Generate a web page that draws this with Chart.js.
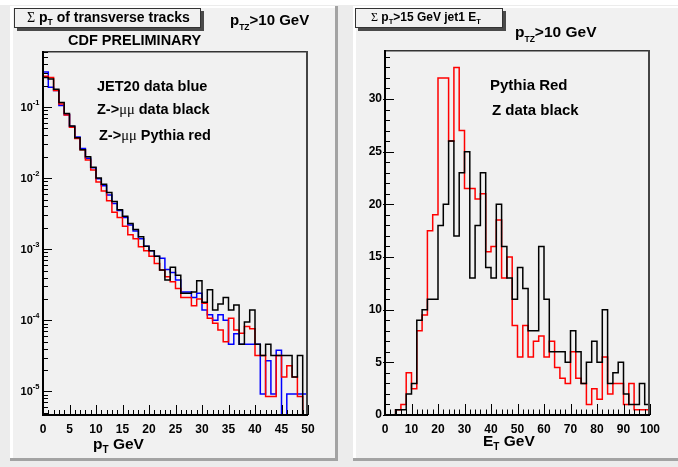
<!DOCTYPE html>
<html><head><meta charset="utf-8">
<script src="https://cdn.jsdelivr.net/npm/chart.js@4/dist/chart.umd.min.js"></script>
<style>
html,body{margin:0;padding:0;background:#fff;}
#wrap{position:relative;width:678px;height:467px;overflow:hidden;background:#ececec}
canvas{position:absolute;top:0}
#c1{left:0}
#c2{left:339px}
</style></head><body>
<div id="wrap"><canvas id="c1" width="339" height="467"></canvas><canvas id="c2" width="339" height="467"></canvas></div>
<script>
// ---------- DATA ----------
// Left panel: sum pT of transverse tracks, 1 GeV bins
const ptEdges = [0,1,2,3,4,5,6,7,8,9,10,11,12,13,14,15,16,17,18,19,20,21,22,23,24,25,26,27,28,29,30,31,32,33,34,35,36,37,38,39,40,41,42,43,44,45,46,47,48,49,50];
const jet20Blue = [0.31,0.19,0.17,0.105,0.078,0.053,0.038,0.026,0.019,0.014,0.0098,0.0078,0.0058,0.0044,0.0035,0.0028,0.0022,0.0018,0.0014,0.0011,0.00095,0.0008,0.00075,0.00052,0.00047,0.00037,0.00025,0.00025,0.00021,0.00024,0.00014,0.00012,0.0001,0.00012,0.0001,0.000046,0.000065,0.000046,0.000046,0.000046,0.000046,0.0000092,0.000027,0.0000092,0.000038,0,0.0000092,0.0000092,0.0000092,0.0000092];
const zDataBlack = [0.26,0.248,0.177,0.116,0.081,0.054,0.037,0.025,0.020,0.0142,0.0100,0.0082,0.0063,0.0047,0.0036,0.0029,0.0023,0.0019,0.0015,0.0011,0.00095,0.00080,0.00051,0.00037,0.00056,0.00043,0.00024,0.00024,0.00025,0.00036,0.00018,0.00027,0.00014,0.00017,0.00021,0.00014,0.000165,0.000046,0.000095,0.00014,0.000046,0.000032,0.000046,0.000032,0.000032,0.000032,0.000032,0.000016,0.000032,0];
const pythiaRedPt = [0.27,0.26,0.17,0.11,0.077,0.052,0.036,0.025,0.018,0.013,0.0088,0.0066,0.0048,0.0033,0.0028,0.0021,0.0016,0.0014,0.00108,0.00095,0.0008,0.00063,0.00051,0.00041,0.00035,0.00028,0.00021,0.00021,0.00016,0.0002,0.000174,0.000107,0.000091,0.000073,0.00005,0.000107,0.000073,0.000066,0.000082,0.000076,0.000032,0.000032,0.0000085,0.0000085,0.000032,0.000016,0.000023,0.000016,0.0000085,0];
const ptTicks = [0,5,10,15,20,25,30,35,40,45,50];
const logTickExps = [-5,-4,-3,-2,-1];

// Right panel: jet1 ET, 2 GeV bins
const etEdges = [0,2,4,6,8,10,12,14,16,18,20,22,24,26,28,30,32,34,36,38,40,42,44,46,48,50,52,54,56,58,60,62,64,66,68,70,72,74,76,78,80,82,84,86,88,90,92,94,96,98,100];
const pythiaRedEt = [0,0,0.5,1,4,2.5,8,9.5,17.5,19,32,32,26,33,27,21.5,21.5,20.5,21,15.5,16,18.5,13,15,8.5,5.5,8.5,5.5,7,7.5,5.5,7,4.5,3.5,3,6,3.5,3,1,2.5,1.5,5.5,2,3,3,1,3,0.5,0.5,0.5];
const zDataBlackEt = [0,0,0.5,0.5,2,3,9,10,11,11,18,20,26,17,23,25,13,18,23,14,13,20,16,13,11,14,12,8,8,16,11,6,6,6,5,8,6,3,5,7,5,10,3,4,5,2,1,1,3,1];
const etTicks = [0,10,20,30,40,50,60,70,80,90,100];
const countTicks = [0,5,10,15,20,25,30];

// ---------- HELPERS ----------
const F = '"Liberation Sans", Arial, Helvetica, sans-serif';
const FS = '"Liberation Serif", "Times New Roman", serif';

function stepData(edges, vals, floor) {
  const pts = vals.map((v, i) => ({x: edges[i], y: (floor && v === 0) ? floor : v}));
  const last = vals[vals.length - 1];
  pts.push({x: edges[edges.length - 1], y: (floor && last === 0) ? floor : last});
  return pts;
}
function txt(ctx, x, y, parts) {
  ctx.save(); ctx.fillStyle = '#000'; ctx.textBaseline = 'alphabetic'; ctx.textAlign = 'left';
  for (const p of parts) {
    const [t, size, weight = 'bold', dy = 0, fam = F] = p;
    ctx.font = `${weight} ${size}px ${fam}`;
    ctx.fillText(t, x, y + dy);
    x += ctx.measureText(t).width;
  }
  ctx.restore();
}
function padBg(ctx, ox, x0, x1) {
  ctx.save(); ctx.translate(-ox, 0);
  ctx.fillStyle = '#fff'; ctx.fillRect(ox, 0, 339, 5);
  ctx.fillStyle = '#ececec'; ctx.fillRect(ox, 5, 339, 462);
  ctx.fillStyle = '#f1f1f1'; ctx.fillRect(x0, 6, x1 - x0, 455);
  ctx.fillStyle = '#ffffff'; ctx.fillRect(x0, 6, 3, 455); ctx.fillRect(x0, 6, x1 - x0, 2);
  ctx.fillStyle = '#a3a3a3'; ctx.fillRect(x1 - 3, 6, 3, 455); ctx.fillRect(x0, 458, x1 - x0, 3);
  ctx.restore();
}
function titleBox(ctx, x0, y0, x1, y1) {
  ctx.save();
  ctx.fillStyle = '#4a4a4a'; ctx.fillRect(x0 + 3, y0 + 3, x1 - x0, y1 - y0);
  ctx.fillStyle = '#f1f1f1'; ctx.fillRect(x0, y0, x1 - x0, y1 - y0);
  ctx.strokeStyle = '#333'; ctx.lineWidth = 1; ctx.strokeRect(x0 + 0.5, y0 + 0.5, x1 - x0 - 1, y1 - y0 - 1);
  ctx.restore();
}
function frame(ctx, a) {
  ctx.save();
  ctx.strokeStyle = '#333'; ctx.lineWidth = 1.5;
  ctx.beginPath(); ctx.moveTo(a.left, a.top + 0.75); ctx.lineTo(a.right, a.top + 0.75); ctx.stroke();
  ctx.strokeStyle = '#444'; ctx.lineWidth = 2;
  ctx.beginPath(); ctx.moveTo(a.right - 1, a.top); ctx.lineTo(a.right - 1, a.bottom); ctx.stroke();
  ctx.strokeStyle = '#000'; ctx.lineWidth = 2;
  ctx.beginPath(); ctx.moveTo(a.left, a.top); ctx.lineTo(a.left, a.bottom); ctx.lineTo(a.right, a.bottom); ctx.stroke();
  ctx.restore();
}
function vtick(ctx, px, y0, len) { ctx.beginPath(); ctx.moveTo(Math.round(px) + 0.5, y0); ctx.lineTo(Math.round(px) + 0.5, y0 - len); ctx.stroke(); }
function htick(ctx, py, x0, len) { ctx.beginPath(); ctx.moveTo(x0, Math.round(py) + 0.5); ctx.lineTo(x0 + len, Math.round(py) + 0.5); ctx.stroke(); }

const tickFont = {family: F, weight: 'bold', size: 12};

// ---------- LEFT CHART ----------
const leftPlugin = {
  id: 'leftDeco',
  beforeDraw(chart) { padBg(chart.ctx, 0, 10, 338); },
  afterDraw(chart) {
    const ctx = chart.ctx, a = chart.chartArea, xs = chart.scales.x, ys = chart.scales.y;
    frame(ctx, a);
    ctx.save(); ctx.strokeStyle = '#000'; ctx.lineWidth = 1;
    for (let v = xs.min; v <= xs.max; v += 1) {
      const major = ptTicks.includes(v);
      vtick(ctx, xs.getPixelForValue(v), a.bottom, major ? 10 : 5);
    }
    for (const e of logTickExps.concat([-6, 0])) {
      for (let m = 1; m <= 9; m++) {
        const v = m * Math.pow(10, e);
        if (v < ys.min || v > ys.max) continue;
        htick(ctx, ys.getPixelForValue(v), a.left, m === 1 ? 9 : 5);
      }
    }
    ctx.restore();
    // log labels 10^n
    for (const e of logTickExps) {
      const py = ys.getPixelForValue(Math.pow(10, e));
      ctx.save();
      ctx.font = `bold 11px ${F}`; const w1 = ctx.measureText('10').width;
      ctx.font = `bold 7.5px ${F}`; const w2 = ctx.measureText(String(e)).width;
      ctx.restore();
      const x0 = a.left - 3.5 - w1 - w2;
      txt(ctx, x0, py + 4, [['10', 11], [String(e), 7.5, 'bold', -6]]);
    }
    titleBox(ctx, 14, 8, 201, 28);
    txt(ctx, 27, 22, [['Σ', 14, 'normal', 0, FS], [' p', 14], ['T', 8.5, 'bold', 3], [' of transverse tracks', 14]]);
    txt(ctx, 230, 25, [['p', 15], ['TZ', 8.5, 'bold', 5], ['>10 GeV', 15]]);
    txt(ctx, 68, 45, [['CDF PRELIMINARY', 14.5]]);
    txt(ctx, 97, 91, [['JET20 data blue', 14.5]]);
    txt(ctx, 97, 114, [['Z->', 14.5], ['μμ', 14.5, 'normal', 0, FS], [' data black', 14.5]]);
    txt(ctx, 99, 140, [['Z->', 14.5], ['μμ', 14.5, 'normal', 0, FS], [' Pythia red', 14.5]]);
    txt(ctx, 93, 449, [['p', 15.5], ['T', 10, 'bold', 4], [' GeV', 15.5]]);
  }
};

new Chart(document.getElementById('c1'), {
  type: 'line',
  data: {datasets: [
    {label: 'Z->mumu data', data: stepData(ptEdges, zDataBlack, 1e-9), borderColor: '#000', order: 0},
    {label: 'Z->mumu Pythia', data: stepData(ptEdges, pythiaRedPt, 1e-9), borderColor: '#ff0000', order: 1},
    {label: 'JET20 data', data: stepData(ptEdges, jet20Blue, 1e-9), borderColor: '#0000ff', order: 2}
  ]},
  options: {
    responsive: false, animation: false, devicePixelRatio: 1,
    layout: {padding: {left: 0, top: 51, right: 31, bottom: 0}},
    plugins: {legend: {display: false}, tooltip: {enabled: false}},
    datasets: {line: {stepped: 'before', pointRadius: 0, borderWidth: 1.5, fill: false, tension: 0}},
    scales: {
      x: {type: 'linear', min: 0, max: 50,
          grid: {display: false, drawTicks: false}, border: {display: false},
          ticks: {font: tickFont, color: '#000', padding: 7, maxRotation: 0, autoSkip: false},
          afterBuildTicks(s) { s.ticks = ptTicks.map(v => ({value: v})); },
          afterFit(s) { s.height = 52; }},
      y: {type: 'logarithmic', min: 4.67e-6, max: 0.613,
          grid: {display: false, drawTicks: false}, border: {display: false},
          ticks: {display: false},
          afterFit(s) { s.width = 43; }}
    }
  },
  plugins: [leftPlugin]
});

// ---------- RIGHT CHART ----------
const OX = 339;
const rightPlugin = {
  id: 'rightDeco',
  beforeDraw(chart) { padBg(chart.ctx, OX, 353, 690); },
  afterDraw(chart) {
    const ctx = chart.ctx, a = chart.chartArea, xs = chart.scales.x, ys = chart.scales.y;
    frame(ctx, a);
    ctx.save(); ctx.strokeStyle = '#000'; ctx.lineWidth = 1;
    for (let v = xs.min; v <= xs.max; v += 2) {
      vtick(ctx, xs.getPixelForValue(v), a.bottom, etTicks.includes(v) ? 11 : 5.5);
    }
    for (let v = 0; v <= ys.max; v += 1) {
      const major = countTicks.includes(v);
      htick(ctx, ys.getPixelForValue(v), major ? a.left - 2 : a.left, major ? 11 : 5);
    }
    ctx.restore();
    ctx.save(); ctx.translate(-OX, 0);
    titleBox(ctx, 355, 8, 503, 28);
    txt(ctx, 371, 21, [['Σ', 12, 'normal', 0, FS], [' p', 12], ['T', 7.5, 'bold', 3], ['>15 GeV jet1 E', 12], ['T', 7.5, 'bold', 3]]);
    txt(ctx, 515, 37, [['p', 15.5], ['TZ', 8.5, 'bold', 5], ['>10 GeV', 15.5]]);
    txt(ctx, 490, 90, [['Pythia Red', 15]]);
    txt(ctx, 492, 115, [['Z data black', 15]]);
    txt(ctx, 483, 446, [['E', 15.5], ['T', 10, 'bold', 4], [' GeV', 15.5]]);
    ctx.restore();
  }
};

new Chart(document.getElementById('c2'), {
  type: 'line',
  data: {datasets: [
    {label: 'Z data', data: stepData(etEdges, zDataBlackEt), borderColor: '#000', order: 0},
    {label: 'Pythia', data: stepData(etEdges, pythiaRedEt), borderColor: '#ff0000', order: 1}
  ]},
  options: {
    responsive: false, animation: false, devicePixelRatio: 1,
    layout: {padding: {left: 0, top: 50, right: 28, bottom: 0}},
    plugins: {legend: {display: false}, tooltip: {enabled: false}},
    datasets: {line: {stepped: 'before', pointRadius: 0, borderWidth: 1.5, fill: false, tension: 0}},
    scales: {
      x: {type: 'linear', min: 0, max: 100,
          grid: {display: false, drawTicks: false}, border: {display: false},
          ticks: {font: tickFont, color: '#000', padding: 7, maxRotation: 0, autoSkip: false},
          afterBuildTicks(s) { s.ticks = etTicks.map(v => ({value: v})); },
          afterFit(s) { s.height = 52; }},
      y: {type: 'linear', min: 0, max: 34.65,
          grid: {display: false, drawTicks: false}, border: {display: false},
          ticks: {font: tickFont, color: '#000', padding: 3, autoSkip: false},
          afterBuildTicks(s) { s.ticks = countTicks.map(v => ({value: v})); },
          afterFit(s) { s.width = 46; }}
    }
  },
  plugins: [rightPlugin]
});
</script>
</body></html>
